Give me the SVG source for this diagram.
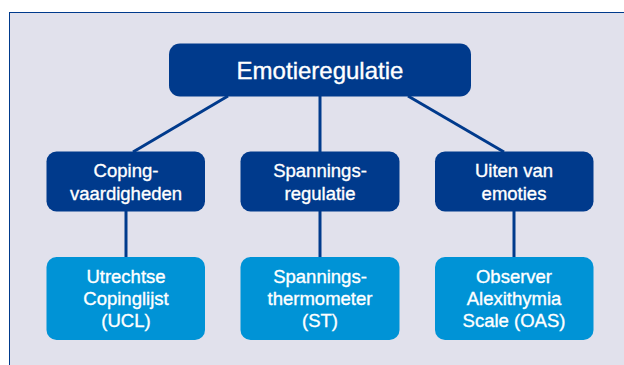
<svg xmlns="http://www.w3.org/2000/svg" width="624" height="365" viewBox="0 0 624 365">
  <style>
    .dark { fill: #003a8c; }
    .light { fill: #0093d6; }
    .conn { stroke: #003a8c; stroke-width: 3; fill: none; }
    text { font-family: "Liberation Sans", Arial, sans-serif; fill: #ffffff; stroke: #ffffff; stroke-width: 0.35; text-anchor: middle; }
    .t1 { font-size: 24px; }
    .t2 { font-size: 18.5px; }
  </style>
  <rect x="0" y="0" width="624" height="365" fill="#ffffff"/>
  <rect x="9.5" y="12.5" width="700" height="400" fill="#e1e1ec" stroke="#003a8c" stroke-width="1"/>
  <g id="connectors">
    <line class="conn" x1="228" y1="96" x2="133" y2="152"/>
    <line class="conn" x1="320" y1="96" x2="320" y2="152"/>
    <line class="conn" x1="408" y1="96" x2="504" y2="152"/>
    <line class="conn" x1="126" y1="211" x2="126" y2="258"/>
    <line class="conn" x1="320" y1="211" x2="320" y2="258"/>
    <line class="conn" x1="514" y1="211" x2="514" y2="258"/>
  </g>
  <g id="emotieregulatie">
    <rect class="dark" x="169" y="43.5" width="302" height="53" rx="11"/>
    <text class="t1" x="320" y="78.5">Emotieregulatie</text>
  </g>
  <g id="coping">
    <rect class="dark" x="46.5" y="151.5" width="158.5" height="60" rx="10"/>
    <text class="t2" x="126" y="176.5">Coping-</text>
    <text class="t2" x="126" y="200">vaardigheden</text>
  </g>
  <g id="spanningsregulatie">
    <rect class="dark" x="240.5" y="151.5" width="159" height="60" rx="10"/>
    <text class="t2" x="320" y="176.5">Spannings-</text>
    <text class="t2" x="320" y="200">regulatie</text>
  </g>
  <g id="uiten">
    <rect class="dark" x="435" y="151.5" width="158.5" height="60" rx="10"/>
    <text class="t2" x="514" y="176.5">Uiten van</text>
    <text class="t2" x="514" y="200">emoties</text>
  </g>
  <g id="ucl">
    <rect class="light" x="46.5" y="257" width="158.5" height="83" rx="10"/>
    <text class="t2" x="126" y="283">Utrechtse</text>
    <text class="t2" x="126" y="305">Copinglijst</text>
    <text class="t2" x="126" y="327">(UCL)</text>
  </g>
  <g id="st">
    <rect class="light" x="240.5" y="257" width="159" height="83" rx="10"/>
    <text class="t2" x="320" y="283">Spannings-</text>
    <text class="t2" x="320" y="305">thermometer</text>
    <text class="t2" x="320" y="327">(ST)</text>
  </g>
  <g id="oas">
    <rect class="light" x="435" y="257" width="158.5" height="83" rx="10"/>
    <text class="t2" x="514" y="283">Observer</text>
    <text class="t2" x="514" y="305">Alexithymia</text>
    <text class="t2" x="514" y="327">Scale (OAS)</text>
  </g>
</svg>
